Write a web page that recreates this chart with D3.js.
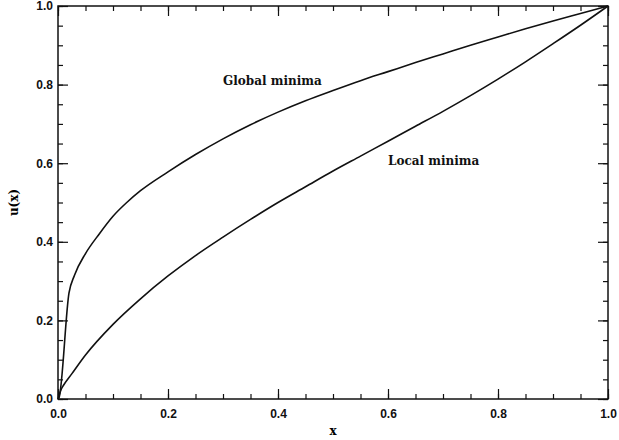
<!DOCTYPE html>
<html>
<head>
<meta charset="utf-8">
<script src="https://cdn.jsdelivr.net/npm/d3@7"></script>
<style>
  body { margin: 0; background: #fff; }
  svg { display: block; }
  .tick text { font-family: "Liberation Sans", Arial, sans-serif; font-weight: bold; font-size: 12px; fill: #111; }
</style>
</head>
<body>
<svg id="chart"></svg>
<script>
// curves
const xGlobal = [0, 0.002, 0.02, 0.03, 0.05, 0.075, 0.1, 0.125, 0.15, 0.2, 0.25, 0.3, 0.35, 0.4, 0.45, 0.5, 0.55, 0.6, 0.65, 0.7, 0.75, 0.8, 0.85, 0.9, 0.95, 1.0];
const uGlobal = [0, 0.004, 0.27, 0.315, 0.37, 0.42, 0.465, 0.5, 0.53, 0.578, 0.622, 0.662, 0.698, 0.73, 0.759, 0.785, 0.81, 0.833, 0.856, 0.878, 0.9, 0.921, 0.942, 0.962, 0.981, 1.0];

const xLocal = [0, 0.005, 0.01, 0.025, 0.05, 0.1, 0.15, 0.2, 0.25, 0.3, 0.35, 0.4, 0.45, 0.5, 0.55, 0.6, 0.65, 0.7, 0.75, 0.8, 0.85, 0.9, 0.95, 1.0];
const uLocal = [0, 0.022, 0.035, 0.064, 0.112, 0.19, 0.255, 0.313, 0.365, 0.412, 0.457, 0.5, 0.54, 0.58, 0.618, 0.656, 0.694, 0.732, 0.772, 0.814, 0.858, 0.904, 0.951, 1.0];

const majorTicks = [0, 0.2, 0.4, 0.6, 0.8, 1.0];
const minorTicks = d3.range(0, 21).map(i => i / 20);

const labels = [
    {text: "Global minima", x: 0.3, u: 0.8},
    {text: "Local minima", x: 0.6, u: 0.596}
];

const margin = {top: 6, right: 11, bottom: 41, left: 58};
const width = 619 - margin.left - margin.right;
const height = 440 - margin.top - margin.bottom;

const svg = d3.select("#chart")
    .attr("width", 619)
    .attr("height", 440);

const g = svg.append("g")
    .attr("transform", `translate(${margin.left}, ${margin.top})`);

const xScale = d3.scaleLinear().domain([0, 1]).range([0, width]);
const yScale = d3.scaleLinear().domain([0, 1]).range([height, 0]);

// frame
g.append("rect")
    .attr("width", width)
    .attr("height", height)
    .attr("fill", "none")
    .attr("stroke", "#111")
    .attr("stroke-width", 1.5);

function drawAxis(axisFn, scale, ticks, size, transform, labelled) {
    const a = g.append("g")
        .attr("transform", transform)
        .call(axisFn(scale)
            .tickValues(ticks)
            .tickSizeInner(-size)
            .tickSizeOuter(0)
            .tickPadding(size + 6)
            .tickFormat(labelled ? d3.format(".1f") : ""));
    a.select(".domain").remove();
    a.selectAll(".tick line").attr("stroke", "#111").attr("stroke-width", 1.2);
    return a;
}

// bottom / left with labels, top / right without
drawAxis(d3.axisBottom, xScale, minorTicks, 5, `translate(0, ${height})`, false);
drawAxis(d3.axisBottom, xScale, majorTicks, 10, `translate(0, ${height})`, true)
    .selectAll(".tick text").attr("dy", "0.9em").attr("y", 8);
drawAxis(d3.axisTop, xScale, minorTicks, 5, "translate(0, 0)", false);
drawAxis(d3.axisTop, xScale, majorTicks, 10, "translate(0, 0)", false);

drawAxis(d3.axisLeft, yScale, minorTicks, 5, "translate(0, 0)", false);
drawAxis(d3.axisLeft, yScale, majorTicks, 10, "translate(0, 0)", true)
    .selectAll(".tick text").attr("x", -5);
drawAxis(d3.axisRight, yScale, minorTicks, 5, `translate(${width}, 0)`, false);
drawAxis(d3.axisRight, yScale, majorTicks, 10, `translate(${width}, 0)`, false);

const line = d3.line()
    .x(d => xScale(d[0]))
    .y(d => yScale(d[1]))
    .curve(d3.curveMonotoneX);

g.append("path")
    .datum(xGlobal.map((x, i) => [x, uGlobal[i]]))
    .attr("d", line)
    .attr("fill", "none")
    .attr("stroke", "#111")
    .attr("stroke-width", 1.6);

g.append("path")
    .datum(xLocal.map((x, i) => [x, uLocal[i]]))
    .attr("d", line)
    .attr("fill", "none")
    .attr("stroke", "#111")
    .attr("stroke-width", 1.6);

g.selectAll(".curve-label")
    .data(labels)
    .join("text")
    .attr("class", "curve-label")
    .attr("x", d => xScale(d.x))
    .attr("y", d => yScale(d.u))
    .attr("font-family", "'DejaVu Serif', serif")
    .attr("font-weight", "bold")
    .attr("font-size", 12)
    .attr("fill", "#111")
    .text(d => d.text);

// axis titles
svg.append("text")
    .attr("x", margin.left + width / 2)
    .attr("y", 435)
    .attr("text-anchor", "middle")
    .attr("font-family", "'DejaVu Serif', serif")
    .attr("font-weight", "bold")
    .attr("font-size", 12)
    .text("x");

svg.append("text")
    .attr("transform", `translate(18, ${margin.top + height / 2}) rotate(-90)`)
    .attr("text-anchor", "middle")
    .attr("font-family", "'DejaVu Serif', serif")
    .attr("font-weight", "bold")
    .attr("font-size", 12)
    .text("u(x)");
</script>
</body>
</html>
